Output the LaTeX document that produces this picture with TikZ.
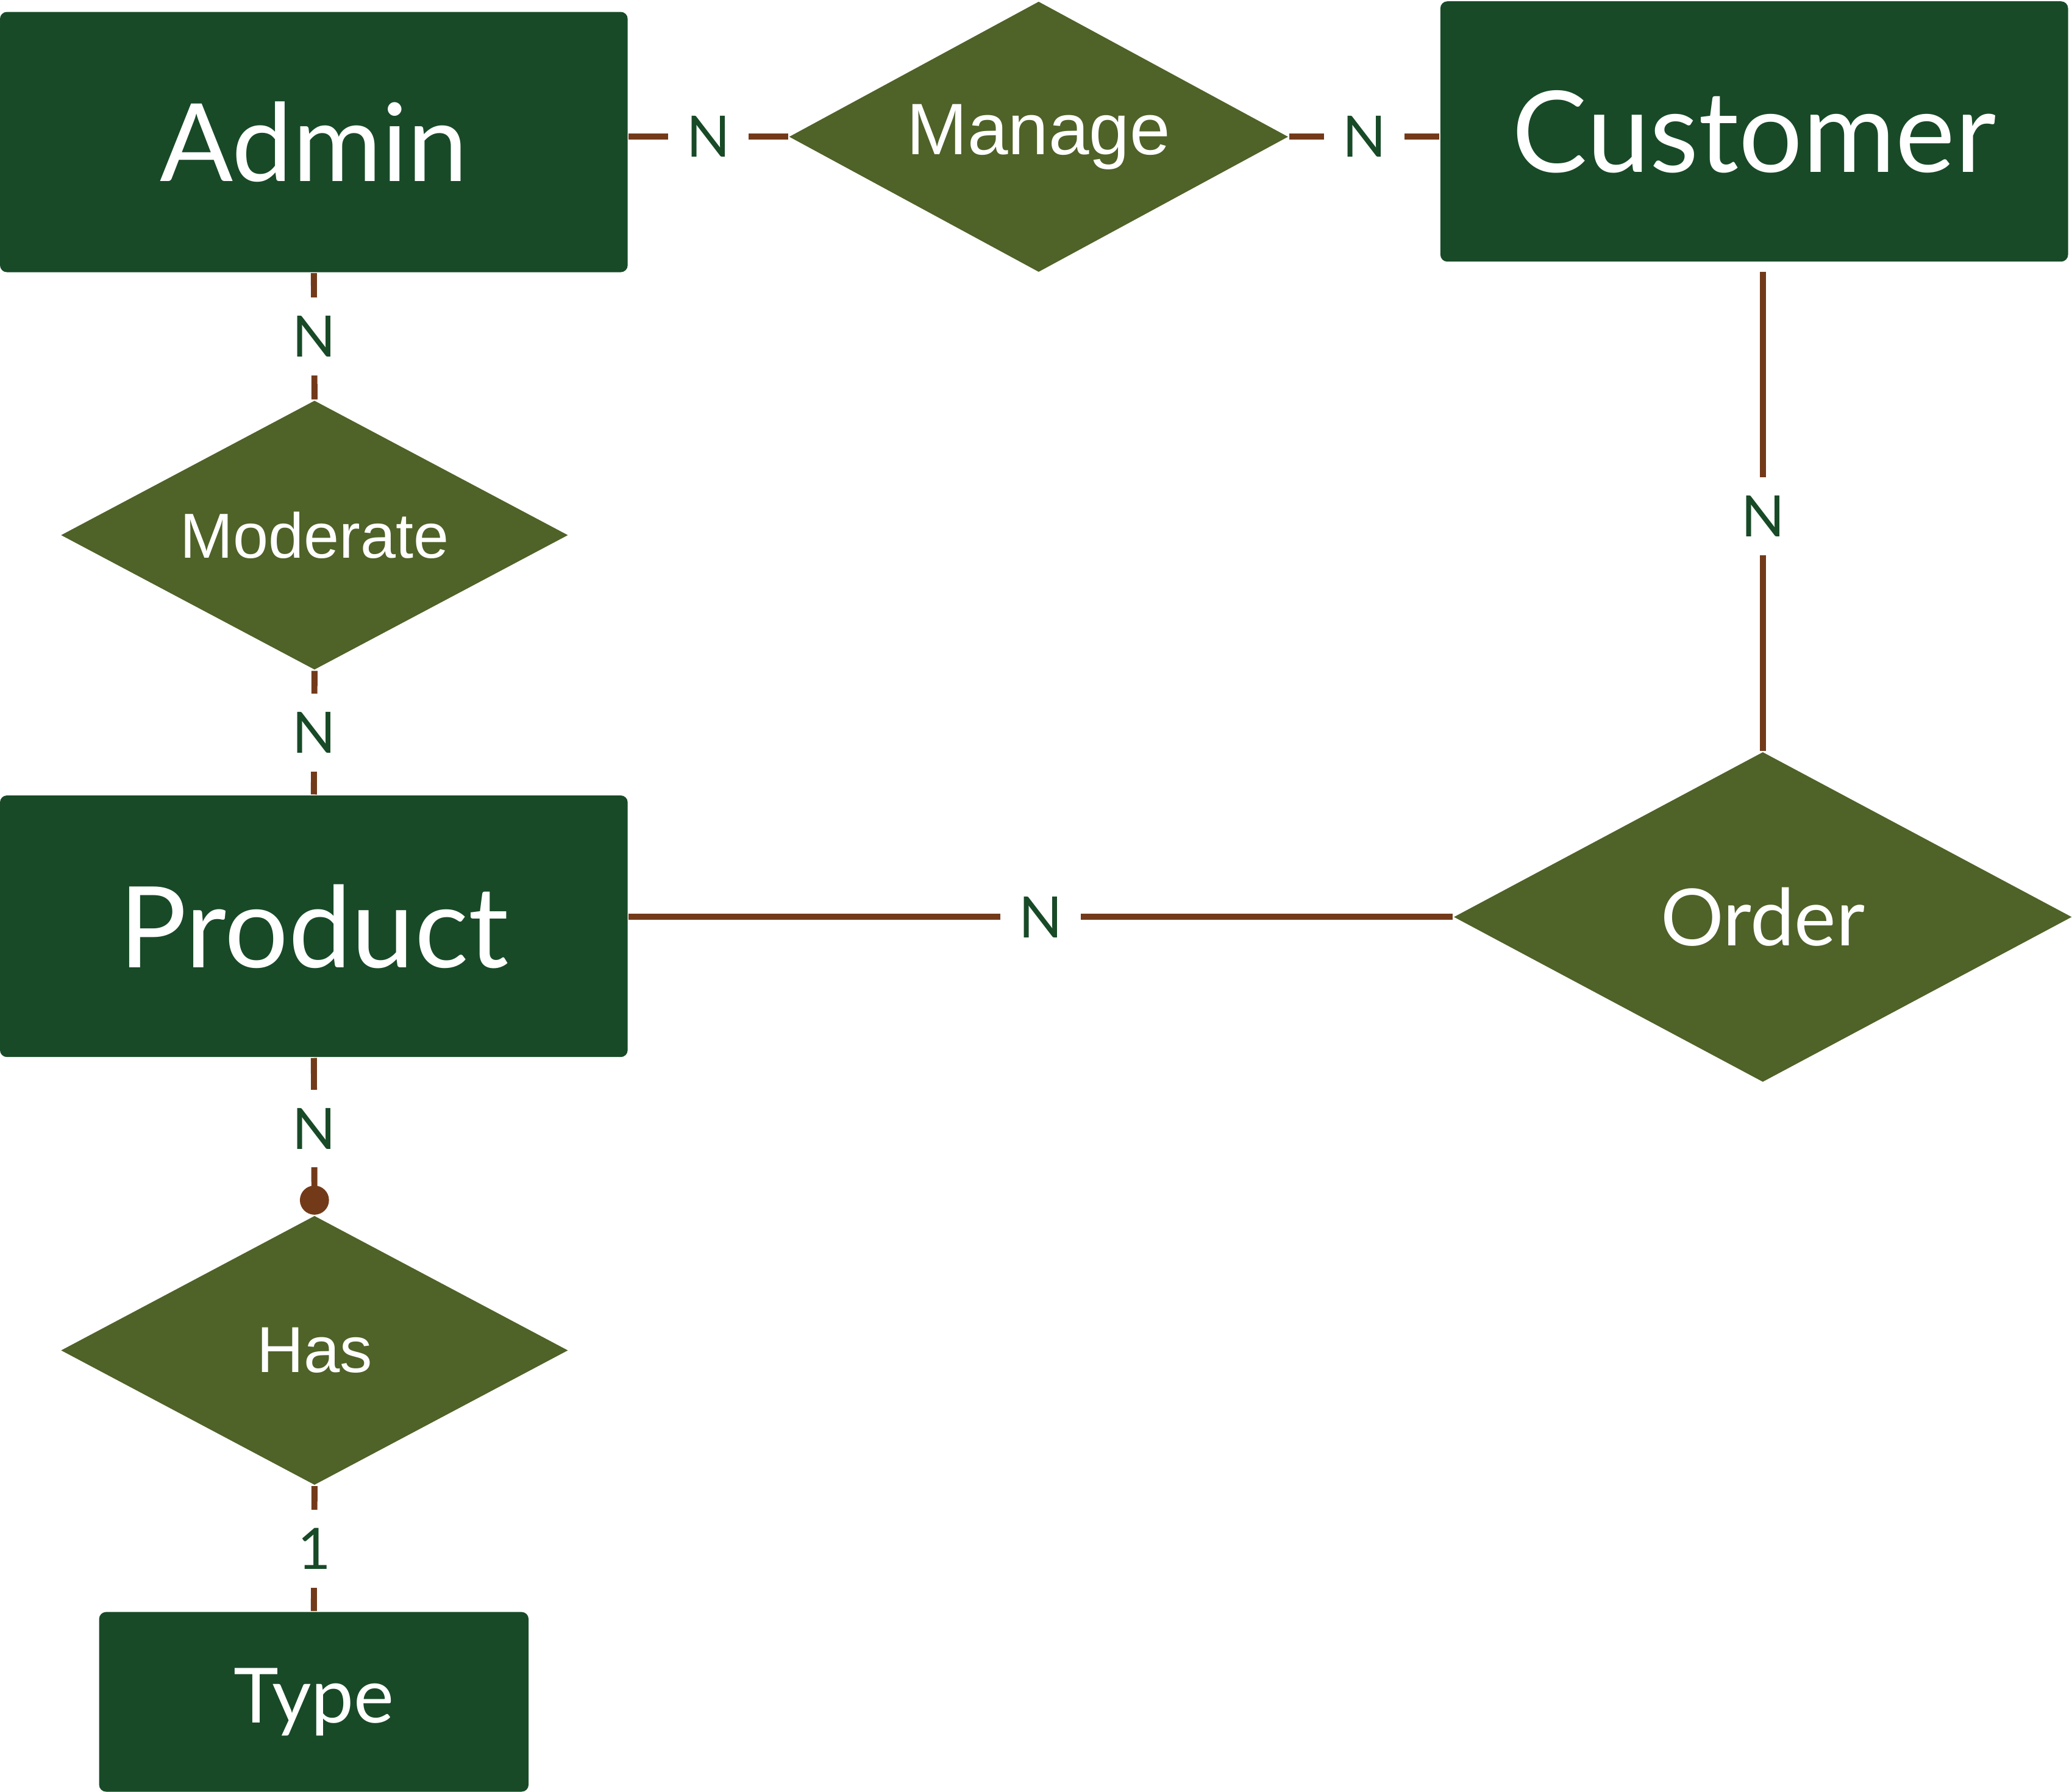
\documentclass[tikz,border=0pt]{standalone}
\usepackage{fontspec}
\setmainfont{Lato}
\newfontfamily\relfont{Liberation Sans}
\usetikzlibrary{shapes.geometric,arrows.meta}
\definecolor{entgreen}{HTML}{184A27}
\definecolor{relolive}{HTML}{4F6228}
\definecolor{linkbrown}{HTML}{733A1A}

\begin{document}
\begin{tikzpicture}[
    entity/.style={rectangle, rounded corners=1.5pt, fill=entgreen, text=white,
        inner sep=0pt, minimum width=4.75cm, minimum height=1.97cm},
    relation/.style={diamond, aspect=1.85, fill=relolive, text=white, inner sep=0pt},
    edge/.style={draw=linkbrown, line width=1.3pt},
    card/.style={fill=white, text=entgreen, inner sep=0.14cm,
        font=\fontsize{12.3}{14}\selectfont}
]
    \useasboundingbox (0,0) rectangle (15.68,-13.56);
    \node[entity, font=\fontsize{23.3}{27}\selectfont] (admin) at (2.375,-1.075) {Admin};
    \node[entity, font=\fontsize{24.3}{28}\selectfont] (customer) at (13.275,-0.995) {Customer};
    \node[entity, font=\fontsize{24.3}{28}\selectfont, minimum height=1.98cm] (product) at (2.375,-7.01) {Product};
    \node[entity, font=\fontsize{16.4}{19}\selectfont, minimum width=3.25cm, minimum height=1.36cm] (type) at (2.375,-12.88) {Type};
    \node[relation, minimum width=3.78cm, minimum height=2.05cm, font=\relfont\fontsize{15.7}{19}\selectfont] (manage) at (7.86,-1.035) {Manage};
    \node[relation, minimum width=3.84cm, minimum height=2.04cm, font=\relfont\fontsize{13.7}{17}\selectfont] (moderate) at (2.38,-4.05) {Moderate};
    \node[relation, minimum width=3.84cm, minimum height=2.04cm, font=\relfont\fontsize{14}{17}\selectfont] (has) at (2.38,-10.22) {Has};
    \node[relation, minimum width=4.68cm, minimum height=2.5cm, font=\fontsize{17}{20}\selectfont] (order) at (13.34,-6.94) {Order};
    \draw[edge] (admin.east |- manage.west) -- node[card] {N} (manage.west);
    \draw[edge] (manage.east) -- node[card] {N} (customer.west |- manage.east);
    \draw[edge] (admin.south) -- node[card] {N} (moderate.north);
    \draw[edge] (moderate.south) -- node[card] {N} (product.north);
    \draw[edge, shorten <=0.07cm] (customer.south -| order.north) -- node[card, pos=0.52] {N} (order.north);
    \draw[edge] (product.east |- order.west) -- node[card] {N} (order.west);
    \draw[edge, -{Circle[length=0.22cm]}] (product.south) -- node[card, pos=0.45] {N} (has.north);
    \draw[edge] (has.south) -- node[card] {1} (type.north);
\end{tikzpicture}
\end{document}
